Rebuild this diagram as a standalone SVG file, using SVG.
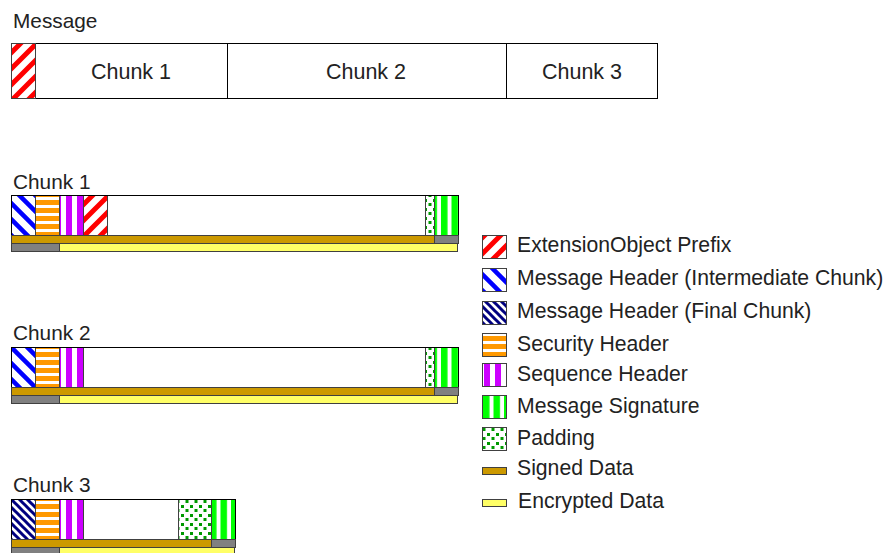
<svg xmlns="http://www.w3.org/2000/svg" width="886" height="553" viewBox="0 0 886 553">
<style>
text{font-family:"Liberation Sans",Arial,sans-serif;font-size:20.8px;fill:#222}
.lg{font-size:21.2px}
.ct{font-size:21.5px}
.box{stroke:#404040;stroke-width:1}
.outer{fill:none;stroke:#000;stroke-width:1}
.gold{fill:#cc9900;stroke:#404040;stroke-width:1}
.grey{fill:#808080;stroke:#404040;stroke-width:1}
.yel{fill:#ffff66;stroke:#404040;stroke-width:1}
</style>
<defs>
<pattern id="pExt" patternUnits="userSpaceOnUse" width="16" height="16">
<rect width="16" height="16" fill="#fff"/>
<path d="M-4,4 L4,-4 M0,16 L16,0 M12,20 L20,12" stroke="#ff0000" stroke-width="5"/>
</pattern>
<pattern id="pMI" patternUnits="userSpaceOnUse" width="16" height="16">
<rect width="16" height="16" fill="#fff"/>
<path d="M0,0 L16,16 M-4,12 L4,20 M12,-4 L20,4" stroke="#0000ff" stroke-width="4.5"/>
</pattern>
<pattern id="pMF" patternUnits="userSpaceOnUse" width="8" height="8">
<rect width="8" height="8" fill="#fff"/>
<path d="M0,0 L8,8 M-4,4 L4,12 M4,-4 L12,4" stroke="#000080" stroke-width="3"/>
</pattern>
<pattern id="pSec" patternUnits="userSpaceOnUse" width="8" height="8">
<rect width="8" height="8" fill="#ff9900"/>
<rect y="5" width="8" height="3" fill="#fff"/>
</pattern>
<pattern id="pSeq" patternUnits="userSpaceOnUse" width="11" height="11">
<rect width="11" height="11" fill="#fff"/>
<rect width="6" height="11" fill="#cc00ff"/>
</pattern>
<pattern id="pSig" patternUnits="userSpaceOnUse" width="10.5" height="10">
<rect width="10.5" height="10" fill="#fff"/>
<rect width="6.5" height="10" fill="#00ff00"/>
</pattern>
<pattern id="pPad" patternUnits="userSpaceOnUse" width="9" height="9">
<rect width="9" height="9" fill="#fff"/>
<rect x="1" y="1" width="3" height="3" fill="#009900"/>
<rect x="5.5" y="5" width="3" height="3" fill="#009900"/>
</pattern>
</defs>

<g id="message">
<text x="13" y="28">Message</text>
<rect x="11.5" y="43.5" width="646" height="55" fill="#fff" stroke="#000"/>
<rect class="box" x="11.5" y="43.5" width="24" height="55" fill="url(#pExt)"/>
<line x1="227.5" y1="43.5" x2="227.5" y2="98.5" stroke="#000"/>
<line x1="506.5" y1="43.5" x2="506.5" y2="98.5" stroke="#000"/>
<text class="ct" x="131" y="79" text-anchor="middle">Chunk 1</text>
<text class="ct" x="366" y="79" text-anchor="middle">Chunk 2</text>
<text class="ct" x="582" y="79" text-anchor="middle">Chunk 3</text>
</g>

<g id="chunk1">
<text x="13" y="189">Chunk 1</text>
<rect x="11.5" y="195.5" width="447" height="40" fill="#fff" stroke="#000"/>
<rect class="box" x="11.5" y="195.5" width="24" height="40" fill="url(#pMI)"/>
<rect class="box" x="35.5" y="195.5" width="24" height="40" fill="url(#pSec)"/>
<rect class="box" x="59.5" y="195.5" width="24" height="40" fill="url(#pSeq)"/>
<rect class="box" x="83.5" y="195.5" width="24" height="40" fill="url(#pExt)"/>
<rect class="box" x="425.5" y="195.5" width="9" height="40" fill="url(#pPad)"/>
<rect class="box" x="434.5" y="195.5" width="24" height="40" fill="url(#pSig)"/>
<rect class="outer" x="11.5" y="195.5" width="447" height="40"/>
<rect class="gold" x="11.5" y="235.5" width="423" height="8"/>
<rect class="grey" x="434.5" y="235.5" width="24" height="8"/>
<rect class="grey" x="11.5" y="243.5" width="48" height="8"/>
<rect class="yel" x="59.5" y="243.5" width="398" height="8"/>
</g>

<g id="chunk2">
<text x="13" y="340">Chunk 2</text>
<rect x="11.5" y="347.5" width="447" height="40" fill="#fff" stroke="#000"/>
<rect class="box" x="11.5" y="347.5" width="24" height="40" fill="url(#pMI)"/>
<rect class="box" x="35.5" y="347.5" width="24" height="40" fill="url(#pSec)"/>
<rect class="box" x="59.5" y="347.5" width="24" height="40" fill="url(#pSeq)"/>
<rect class="box" x="425.5" y="347.5" width="9" height="40" fill="url(#pPad)"/>
<rect class="box" x="434.5" y="347.5" width="24" height="40" fill="url(#pSig)"/>
<rect class="outer" x="11.5" y="347.5" width="447" height="40"/>
<rect class="gold" x="11.5" y="387.5" width="423" height="8"/>
<rect class="grey" x="434.5" y="387.5" width="24" height="8"/>
<rect class="grey" x="11.5" y="395.5" width="48" height="8"/>
<rect class="yel" x="59.5" y="395.5" width="398" height="8"/>
</g>

<g id="chunk3">
<text x="13" y="492">Chunk 3</text>
<rect x="11.5" y="499.5" width="224" height="40" fill="#fff" stroke="#000"/>
<rect class="box" x="11.5" y="499.5" width="24" height="40" fill="url(#pMF)"/>
<rect class="box" x="35.5" y="499.5" width="24" height="40" fill="url(#pSec)"/>
<rect class="box" x="59.5" y="499.5" width="24" height="40" fill="url(#pSeq)"/>
<rect class="box" x="178.5" y="499.5" width="33" height="40" fill="url(#pPad)"/>
<rect class="box" x="211.5" y="499.5" width="24" height="40" fill="url(#pSig)"/>
<rect class="outer" x="11.5" y="499.5" width="224" height="40"/>
<rect class="gold" x="11.5" y="539.5" width="200" height="8"/>
<rect class="grey" x="211.5" y="539.5" width="24" height="8"/>
<rect class="grey" x="11.5" y="547.5" width="48" height="8"/>
<rect class="yel" x="59.5" y="547.5" width="175" height="8"/>
</g>

<g id="legend">
<rect class="box" x="482.5" y="235.5" width="24" height="23" fill="url(#pExt)"/>
<text class="lg" x="517" y="252">ExtensionObject Prefix</text>
<rect class="box" x="482.5" y="268.5" width="24" height="23" fill="url(#pMI)"/>
<text class="lg" x="517" y="285">Message Header (Intermediate Chunk)</text>
<rect class="box" x="482.5" y="301.5" width="24" height="23" fill="url(#pMF)"/>
<text class="lg" x="517" y="318">Message Header (Final Chunk)</text>
<rect class="box" x="482.5" y="333.5" width="24" height="23" fill="url(#pSec)"/>
<text class="lg" x="517" y="351">Security Header</text>
<rect class="box" x="482.5" y="363.5" width="24" height="23" fill="url(#pSeq)"/>
<text class="lg" x="517" y="381">Sequence Header</text>
<rect class="box" x="482.5" y="395.5" width="24" height="23" fill="url(#pSig)"/>
<text class="lg" x="517" y="413">Message Signature</text>
<rect class="box" x="482.5" y="427.5" width="24" height="23" fill="url(#pPad)"/>
<text class="lg" x="517" y="445">Padding</text>
<rect class="gold" x="482.5" y="467.5" width="24" height="7"/>
<text class="lg" x="517" y="475">Signed Data</text>
<rect class="yel" x="482.5" y="499.5" width="24" height="7"/>
<text class="lg" x="518" y="508">Encrypted Data</text>
</g>
</svg>
